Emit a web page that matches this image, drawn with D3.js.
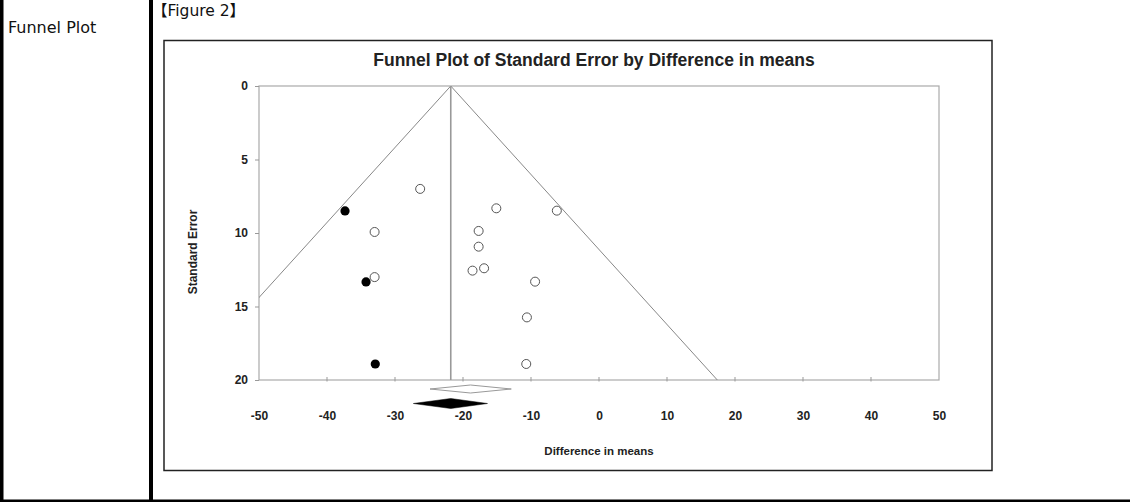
<!DOCTYPE html>
<html>
<head>
<meta charset="utf-8">
<script src="https://cdn.jsdelivr.net/npm/d3@7"></script>
<style>
body { margin: 0; background: #fff; }
svg { display: block; }
</style>
</head>
<body>
<div id="chart"></div>
<script>
// observed studies (open circles)
var observedDiff = [-26.3, -33.0, -15.1, -17.7, -17.7, -18.6, -16.9, -9.4, -33.0, -10.6, -10.7, -6.2];
var observedSE   = [7.0, 9.93, 8.32, 9.86, 10.93, 12.56, 12.4, 13.31, 13.0, 15.74, 18.91, 8.48];
// imputed studies (filled circles)
var imputedDiff = [-37.35, -34.26, -32.9];
var imputedSE   = [8.5, 13.33, 18.91];
// summary diamonds: lower, estimate, upper
var observedSummary = [-24.85, -18.9, -12.9];
var adjustedSummary = [-27.3, -21.8, -16.4];
var funnelCentre = -21.8;

var xTicks = [-50, -40, -30, -20, -10, 0, 10, 20, 30, 40, 50];
var yTicks = [0, 5, 10, 15, 20];

var chartTitle = "Funnel Plot of Standard Error by Difference in means";
var xTitle = "Difference in means";
var yTitle = "Standard Error";

var W = 1130, H = 502;
var plot = {left: 259, top: 86, right: 939, bottom: 380};
var font = "Arial, 'Liberation Sans', sans-serif";
var pageFont = "'DejaVu Sans', 'Noto Sans CJK JP', sans-serif";

var svg = d3.select("#chart").append("svg")
    .attr("width", W)
    .attr("height", H);

// page borders
svg.append("rect").attr("x", 0).attr("y", 0).attr("width", 3.5).attr("height", H).attr("fill", "#000");
svg.append("rect").attr("x", 149).attr("y", 0).attr("width", 4).attr("height", H).attr("fill", "#000");
svg.append("rect").attr("x", 0).attr("y", 499.5).attr("width", W).attr("height", 2.5).attr("fill", "#000");

svg.append("text").attr("x", 8).attr("y", 33)
    .style("font-family", pageFont)
    .style("font-size", "16px")
    .style("fill", "#111")
    .text("Funnel Plot");
svg.append("text").attr("x", 152).attr("y", 16)
    .style("font-family", pageFont)
    .style("font-size", "15.5px")
    .style("fill", "#111")
    .text("【Figure 2】");

// chart frame
svg.append("rect")
    .attr("x", 164).attr("y", 40.5)
    .attr("width", 828).attr("height", 430)
    .attr("fill", "#fff")
    .attr("stroke", "#222")
    .attr("stroke-width", 1.5);

svg.append("text")
    .attr("x", 594).attr("y", 66)
    .attr("text-anchor", "middle")
    .style("font-family", font).style("font-size", "17.5px").style("font-weight", "bold")
    .style("fill", "#222")
    .text(chartTitle);

var x = d3.scaleLinear().domain([-50, 50]).range([plot.left, plot.right]);
var y = d3.scaleLinear().domain([0, 20]).range([plot.top, plot.bottom]);

var g = svg.append("g");

g.append("clipPath").attr("id", "plot-clip")
    .append("rect")
    .attr("x", plot.left).attr("y", plot.top)
    .attr("width", plot.right - plot.left).attr("height", plot.bottom - plot.top);

g.append("rect")
    .attr("x", plot.left).attr("y", plot.top)
    .attr("width", plot.right - plot.left).attr("height", plot.bottom - plot.top)
    .attr("fill", "none")
    .attr("stroke", "#aaa")
    .attr("stroke-width", 1.2);

// y axis (outside ticks)
var yAxisG = g.append("g")
    .attr("transform", "translate(" + plot.left + ",0)")
    .call(d3.axisLeft(y).tickValues(yTicks).tickSize(4).tickPadding(7));
yAxisG.select(".domain").remove();
yAxisG.selectAll("line").attr("stroke", "#999");
yAxisG.selectAll("text")
    .style("font-family", font).style("font-size", "12px").style("font-weight", "bold").style("fill", "#222");

// x axis: small ticks on the line, labels below the diamonds
var xAxisG = g.append("g")
    .attr("transform", "translate(0," + plot.bottom + ")")
    .call(d3.axisBottom(x).tickValues(xTicks).tickSize(0).tickPadding(31)
        .tickFormat(function(d) { return String(d); }));
xAxisG.select(".domain").remove();
xAxisG.selectAll("text")
    .style("font-family", font).style("font-size", "12px").style("font-weight", "bold").style("fill", "#222");
g.append("g").selectAll("line").data(xTicks.slice(1, -1)).enter()
    .append("line")
    .attr("x1", function(d) { return x(d); })
    .attr("x2", function(d) { return x(d); })
    .attr("y1", plot.bottom - 3)
    .attr("y2", plot.bottom + 1.5)
    .attr("stroke", "#999");

g.append("text")
    .attr("x", (plot.left + plot.right) / 2).attr("y", 455)
    .attr("text-anchor", "middle")
    .style("font-family", font).style("font-size", "11.5px").style("font-weight", "bold").style("fill", "#222")
    .text(xTitle);

g.append("text")
    .attr("transform", "translate(197,252) rotate(-90)")
    .attr("text-anchor", "middle")
    .style("font-family", font).style("font-size", "12px").style("font-weight", "bold").style("fill", "#222")
    .text(yTitle);

// funnel (95% limits) and centre line
var maxSE = 20;
var funnel = [[funnelCentre - 1.96 * maxSE, maxSE], [funnelCentre, 0], [funnelCentre + 1.96 * maxSE, maxSE]];
g.append("path")
    .datum(funnel)
    .attr("d", d3.line().x(function(d) { return x(d[0]); }).y(function(d) { return y(d[1]); }))
    .attr("fill", "none")
    .attr("stroke", "#888")
    .attr("stroke-width", 1)
    .attr("clip-path", "url(#plot-clip)");
g.append("line")
    .attr("x1", x(funnelCentre)).attr("x2", x(funnelCentre))
    .attr("y1", y(0)).attr("y2", y(20))
    .attr("stroke", "#999")
    .attr("stroke-width", 1.6);

// points
var obs = observedDiff.map(function(d, i) { return [d, observedSE[i]]; });
var imp = imputedDiff.map(function(d, i) { return [d, imputedSE[i]]; });

g.append("g").selectAll("circle").data(obs).enter()
    .append("circle")
    .attr("cx", function(d) { return x(d[0]); })
    .attr("cy", function(d) { return y(d[1]); })
    .attr("r", 4.5)
    .attr("fill", "#fff")
    .attr("stroke", "#555")
    .attr("stroke-width", 1);

g.append("g").selectAll("circle").data(imp).enter()
    .append("circle")
    .attr("cx", function(d) { return x(d[0]); })
    .attr("cy", function(d) { return y(d[1]); })
    .attr("r", 4.6)
    .attr("fill", "#000");

// summary diamonds
function diamond(s, cy, half) {
    return [[x(s[0]), cy], [x(s[1]), cy - half], [x(s[2]), cy], [x(s[1]), cy + half]];
}
g.append("polygon")
    .attr("points", diamond(observedSummary, 389, 4).join(" "))
    .attr("fill", "#fff")
    .attr("stroke", "#999")
    .attr("stroke-width", 1);
g.append("polygon")
    .attr("points", diamond(adjustedSummary, 403.5, 5).join(" "))
    .attr("fill", "#000")
    .attr("stroke", "#000")
    .attr("stroke-width", 0.5);
</script>
</body>
</html>
